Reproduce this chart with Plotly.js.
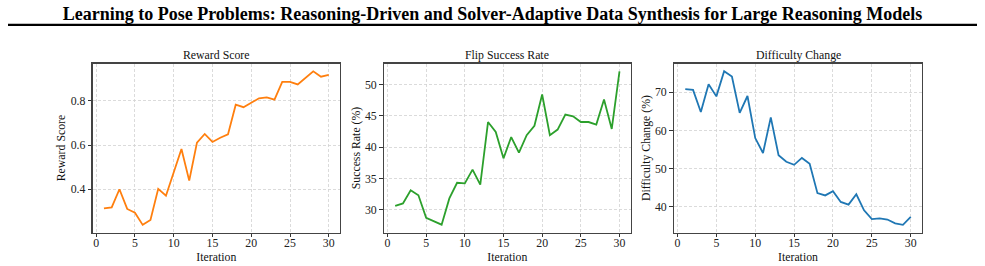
<!DOCTYPE html>
<html>
<head>
<meta charset="utf-8">
<script src="https://cdn.plot.ly/plotly-3.0.1.min.js"></script>
<style>
  html, body { margin: 0; padding: 0; background: #fff; }
  #chart { width: 985px; height: 266px; }
</style>
</head>
<body>
<div id="chart"></div>
<script>
// Training curves over 30 iterations
const iterations = Array.from({length: 30}, (_, i) => i + 1);

const rewardScore = [0.314, 0.318, 0.400, 0.311, 0.294, 0.239, 0.261, 0.402, 0.371, 0.480,
                     0.582, 0.439, 0.611, 0.650, 0.614, 0.633, 0.648, 0.782, 0.771, 0.791,
                     0.811, 0.815, 0.805, 0.885, 0.885, 0.874, 0.903, 0.933, 0.909, 0.917];

const flipSuccessRate = [30.6, 31.0, 33.1, 32.3, 28.7, 28.1, 27.6, 31.8, 34.3, 34.2,
                         36.4, 34.0, 44.0, 42.4, 38.2, 41.6, 39.1, 41.9, 43.4, 48.4,
                         41.9, 42.8, 45.2, 44.9, 44.0, 44.0, 43.6, 47.6, 42.9, 52.1];

const difficultyChange = [70.8, 70.6, 64.8, 72.1, 68.9, 75.5, 74.1, 64.6, 69.0, 58.0,
                          54.1, 63.4, 53.5, 51.8, 51.0, 52.8, 51.3, 43.6, 43.0, 44.1,
                          41.3, 40.6, 43.3, 39.1, 36.8, 37.0, 36.7, 35.7, 35.3, 37.4];

const panelTitles = ['Reward Score', 'Flip Success Rate', 'Difficulty Change'];
const yTitles = ['Reward Score', 'Success Rate (%)', 'Difficulty Change (%)'];
const lineColors = ['#ff7f0e', '#2ca02c', '#1f77b4'];
const xTickLabels = ['0', '5', '10', '15', '20', '25', '30'];
const mainTitle = 'Learning to Pose Problems: Reasoning-Driven and Solver-Adaptive Data Synthesis for Large Reasoning Models';

const W = 985, H = 266;
const FONT = '"Liberation Serif", "Times New Roman", serif';

// pixel-based panel boxes -> paper fractions
const boxes = [[92.7, 340.0], [384.0, 630.7], [674.0, 922.0]];
const yTop = 63.5, yBot = 232.5;
const yDomain = [1 - yBot / H, 1 - yTop / H];

const series = [rewardScore, flipSuccessRate, difficultyChange];
const yRanges = [[0.2045, 0.9685], [26.35, 53.35], [33.3, 77.5]];
const yDticks = [0.2, 5, 10];

const traces = series.map((vals, i) => ({
  x: iterations,
  y: vals,
  type: 'scatter',
  mode: 'lines',
  line: {color: lineColors[i], width: 1.8},
  xaxis: i === 0 ? 'x' : 'x' + (i + 1),
  yaxis: i === 0 ? 'y' : 'y' + (i + 1),
  showlegend: false,
  hoverinfo: 'x+y'
}));

const axisCommon = {
  showline: true,
  mirror: true,
  linecolor: '#444',
  linewidth: 1.4,
  ticks: 'outside',
  ticklen: 3.5,
  tickwidth: 1,
  tickcolor: '#333',
  showgrid: true,
  gridcolor: '#d2d2d2',
  gridwidth: 0.8,
  griddash: '3px,2px',
  zeroline: false,
  automargin: false,
  tickfont: {family: FONT, size: 11.8, color: '#222'}
};

const layout = {
  width: W,
  height: H,
  margin: {l: 0, r: 0, t: 0, b: 0},
  paper_bgcolor: '#ffffff',
  plot_bgcolor: '#ffffff',
  font: {family: FONT, color: '#111'},
  title: {
    text: '<b>' + mainTitle + '</b>',
    font: {family: FONT, size: 18, color: '#000'},
    x: 0.5,
    xanchor: 'center',
    y: 1 - 13.5 / H,
    yanchor: 'middle',
    xref: 'paper',
    yref: 'paper'
  },
  shapes: [{
    type: 'line', xref: 'paper', yref: 'paper',
    x0: 8 / W, x1: 977 / W, y0: 1 - 24.8 / H, y1: 1 - 24.8 / H,
    line: {color: '#000', width: 2.3}
  }],
  annotations: []
};

boxes.forEach((b, i) => {
  const sfx = i === 0 ? '' : String(i + 1);
  layout['xaxis' + sfx] = Object.assign({}, axisCommon, {
    domain: [b[0] / W, b[1] / W],
    anchor: 'y' + sfx,
    range: [-0.45, 31.45],
    tickmode: 'array',
    tickvals: xTickLabels.map(Number),
    ticktext: xTickLabels,
    ticklabelstandoff: -5,
    title: {text: 'Iteration', font: {family: FONT, size: 11.8, color: '#111'}, standoff: 0}
  });
  layout['yaxis' + sfx] = Object.assign({}, axisCommon, {
    domain: yDomain,
    anchor: 'x' + sfx,
    range: yRanges[i],
    dtick: yDticks[i],
    tick0: 0,
    title: {text: yTitles[i], font: {family: FONT, size: 11.8, color: '#111'}, standoff: 2}
  });
  layout.annotations.push({
    text: panelTitles[i],
    xref: 'paper', yref: 'paper',
    x: (b[0] + b[1]) / 2 / W,
    y: 1 - 55 / H,
    xanchor: 'center', yanchor: 'middle',
    showarrow: false,
    font: {family: FONT, size: 11.8, color: '#111'}
  });
});

Plotly.newPlot('chart', traces, layout, {displayModeBar: false, staticPlot: true});
</script>
</body>
</html>
